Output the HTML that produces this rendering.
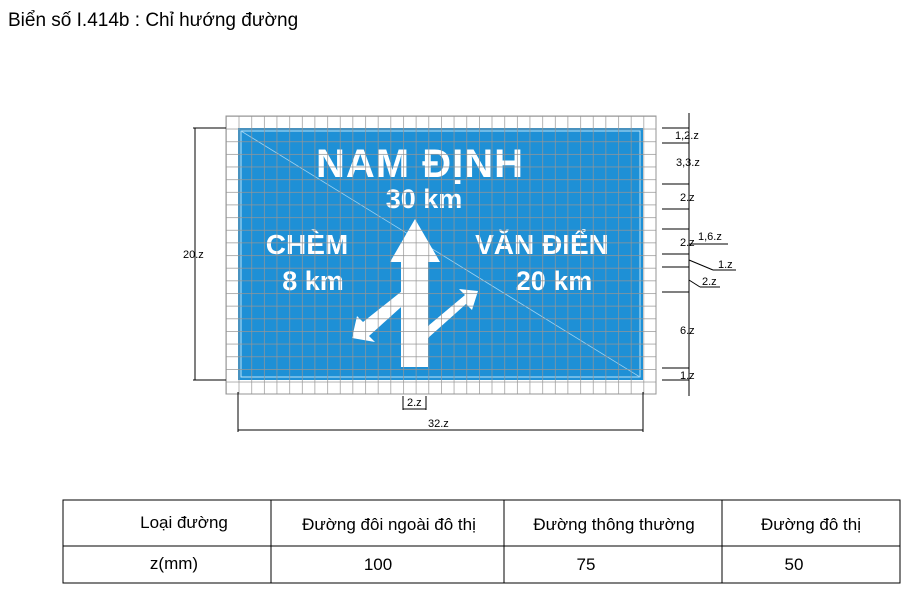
<!DOCTYPE html>
<html><head><meta charset="utf-8"><style>
body{margin:0;background:#fff;width:913px;height:601px;overflow:hidden;font-family:"Liberation Sans",sans-serif}
</style></head><body>
<svg width="913" height="601" xmlns="http://www.w3.org/2000/svg" font-family="Liberation Sans, sans-serif">
<defs>
<pattern id="grid" x="226" y="116" width="12.65" height="12.65" patternUnits="userSpaceOnUse">
<path d="M0 0H12.65M0 0V12.65" stroke="#959595" stroke-width="1.4" fill="none"/>
</pattern>
</defs>
<text x="8" y="26" font-size="19" fill="#000">Biển số I.414b : Chỉ hướng đường</text>
<g>
<rect x="226" y="116" width="430" height="278" fill="#fff"/>
<rect x="238" y="128" width="405" height="252" fill="#1e90d6"/>
<rect x="241" y="131" width="399" height="246" fill="none" stroke="#bfe3f7" stroke-width="1"/>
<line x1="241" y1="131" x2="640" y2="377" stroke="#9fd2f0" stroke-width="0.8"/>
<g fill="#fff" font-weight="bold" text-anchor="middle">
<text x="420" y="177" font-size="40" letter-spacing="1">NAM ĐỊNH</text>
<text x="424" y="208" font-size="27">30 km</text>
<text x="307" y="254" font-size="28">CHÈM</text>
<text x="313" y="290" font-size="27">8 km</text>
<text x="542" y="254" font-size="28">VĂN ĐIỂN</text>
<text x="554" y="290" font-size="27">20 km</text>
</g>
<g fill="#fff">
<polygon points="415,219 440,262 428,262 428,367 401,367 401,262 390,262"/>
<polygon points="402,291 410,299 369,336 375,342 352,338 357,316 363,322"/>
<polygon points="428,326 465,295 459,289 478,291 472,310 466,304 428,338"/>
</g>
<rect x="226" y="116" width="430" height="278" fill="url(#grid)"/>
<rect x="226" y="116" width="430" height="278" fill="none" stroke="#959595"/>
</g>
<g stroke="#000" stroke-width="1" fill="none">
<line x1="195" y1="128" x2="195" y2="380"/>
<line x1="193" y1="128" x2="226" y2="128"/><line x1="193" y1="380" x2="226" y2="380"/>
<line x1="238" y1="392" x2="238" y2="432"/><line x1="643" y1="392" x2="643" y2="432"/>
<line x1="238" y1="430" x2="643" y2="430"/>
<line x1="403" y1="396" x2="403" y2="410"/><line x1="426" y1="396" x2="426" y2="410"/>
<line x1="403" y1="409" x2="426" y2="409"/>
<line x1="689" y1="113" x2="689" y2="396"/>
<g>
<line x1="662" y1="128" x2="689" y2="128"/><line x1="662" y1="143" x2="689" y2="143"/>
<line x1="662" y1="184" x2="689" y2="184"/><line x1="662" y1="209" x2="689" y2="209"/>
<line x1="662" y1="229" x2="689" y2="229"/><line x1="662" y1="254" x2="689" y2="254"/>
<line x1="662" y1="267" x2="689" y2="267"/><line x1="662" y1="292" x2="689" y2="292"/>
<line x1="662" y1="368" x2="689" y2="368"/><line x1="662" y1="380" x2="689" y2="380"/>
<line x1="689" y1="244" x2="728" y2="244"/>
<line x1="689" y1="260" x2="713" y2="270"/><line x1="713" y1="270" x2="736" y2="270"/>
<line x1="689" y1="280" x2="700" y2="287"/><line x1="700" y1="287" x2="720" y2="287"/>
</g>
</g>
<g font-size="11" fill="#000">
<text x="183" y="258">20.z</text>
<text x="428" y="427">32.z</text>
<text x="407" y="406">2.z</text>
<text x="675" y="139">1,2.z</text>
<text x="676" y="166">3,3.z</text>
<text x="680" y="201">2.z</text>
<text x="680" y="246">2.z</text>
<text x="698" y="240">1,6.z</text>
<text x="718" y="268">1.z</text>
<text x="702" y="285">2.z</text>
<text x="680" y="334">6.z</text>
<text x="680" y="379">1.z</text>
</g>
<g>
<rect x="63" y="500" width="837" height="83" fill="none" stroke="#000"/>
<line x1="63" y1="546" x2="900" y2="546" stroke="#000"/>
<line x1="271" y1="500" x2="271" y2="583" stroke="#000"/>
<line x1="504" y1="500" x2="504" y2="583" stroke="#000"/>
<line x1="722" y1="500" x2="722" y2="583" stroke="#000"/>
<g font-size="17" fill="#000" text-anchor="middle">
<text x="184" y="528">Loại đường</text>
<text x="389" y="530">Đường đôi ngoài đô thị</text>
<text x="614" y="530">Đường thông thường</text>
<text x="811" y="530">Đường đô thị</text>
<text x="174" y="569">z(mm)</text>
<text x="378" y="570">100</text>
<text x="586" y="570">75</text>
<text x="794" y="570">50</text>
</g>
</g>
</svg>
</body></html>
